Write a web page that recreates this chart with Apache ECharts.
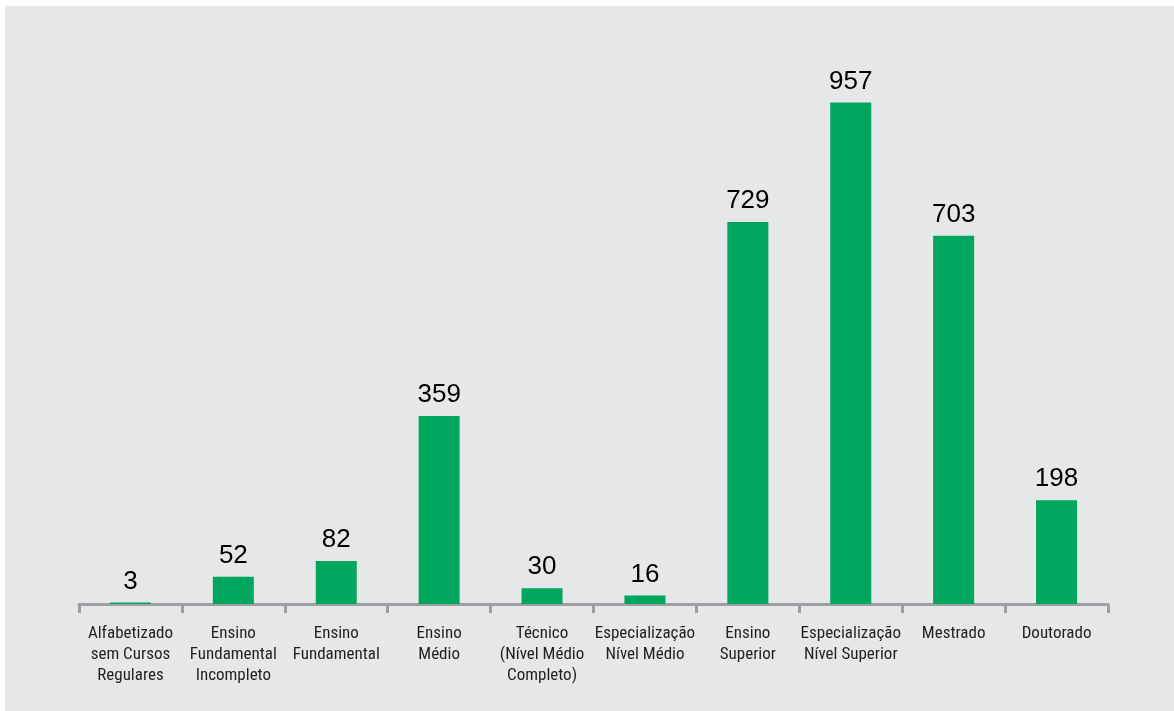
<!DOCTYPE html>
<html>
<head>
<meta charset="utf-8">
<script src="https://cdn.jsdelivr.net/npm/echarts@6/dist/echarts.min.js"></script>
<style>
html,body{margin:0;padding:0;background:#ffffff;}
#bg{position:absolute;left:5px;top:6px;right:0;bottom:0;background:#e6e7e8;}
#chart{position:absolute;left:0;top:0;width:1174px;height:711px;}
</style>
</head>
<body>
<div id="bg"></div>
<div id="chart"></div>
<script>
const categories = [
  "Alfabetizado\nsem Cursos\nRegulares",
  "Ensino\nFundamental\nIncompleto",
  "Ensino\nFundamental",
  "Ensino\nMédio",
  "Técnico\n(Nível Médio\nCompleto)",
  "Especialização\nNível Médio",
  "Ensino\nSuperior",
  "Especialização\nNível Superior",
  "Mestrado",
  "Doutorado"
];
const values = [3, 52, 82, 359, 30, 16, 729, 957, 703, 198];

const chart = echarts.init(document.getElementById('chart'), null, {renderer: 'canvas'});
chart.setOption({
  backgroundColor: 'transparent',
  animation: false,
  grid: {left: 79, right: 66, top: 80, bottom: 107, containLabel: false},
  xAxis: {
    type: 'category',
    data: categories,
    axisLine: {show: true, lineStyle: {color: '#9d9fa2', width: 3}},
    axisTick: {show: true, length: 9, alignWithLabel: false, lineStyle: {color: '#9d9fa2', width: 3}},
    axisLabel: {
      interval: 0,
      color: '#231f20',
      fontFamily: '"Roboto Condensed", "Liberation Sans Narrow", sans-serif',
      fontSize: 17,
      lineHeight: 21,
      margin: 19
    }
  },
  yAxis: {
    type: 'value',
    min: 0,
    max: 1000,
    show: false,
    splitLine: {show: false}
  },
  series: [{
    type: 'bar',
    data: values,
    barWidth: 41,
    itemStyle: {color: '#00a65e'},
    label: {
      show: true,
      position: 'top',
      distance: 8,
      color: '#000000',
      fontFamily: '"Liberation Sans", Arial, sans-serif',
      fontSize: 26
    }
  }]
});
</script>
</body>
</html>
